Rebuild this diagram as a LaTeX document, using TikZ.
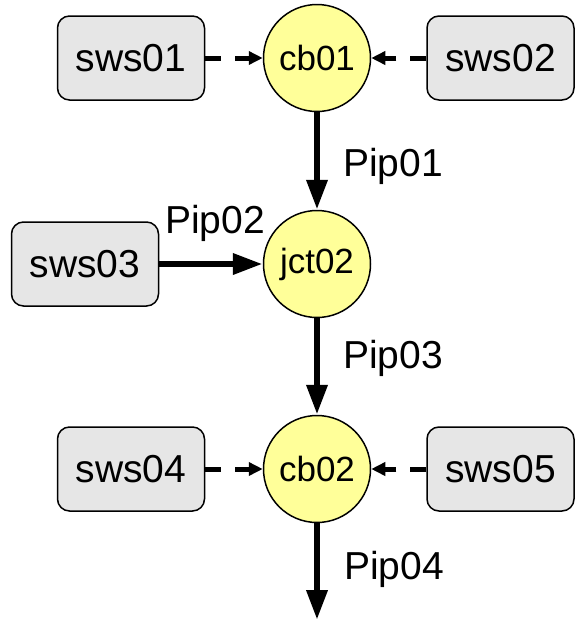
\documentclass[tikz,border=0pt]{standalone}
\usepackage{fontspec}
\setmainfont{Liberation Sans}
\usetikzlibrary{arrows.meta}
\definecolor{boxfill}{HTML}{E6E6E6}
\definecolor{nodefill}{HTML}{FFFF99}
\begin{document}
\begin{tikzpicture}[x=1pt,y=-1pt,
  swsbox/.style={draw=black, line width=1.5pt, fill=boxfill, rounded corners=12pt,
    minimum width=147pt, minimum height=84pt, inner sep=0pt,
    font=\fontsize{39}{39}\selectfont},
  junc/.style={draw=black, line width=1.5pt, fill=nodefill, circle,
    minimum size=107pt, inner sep=0pt, font=\fontsize{35}{35}\selectfont},
  flow/.style={line width=6.5pt, -{Triangle[length=30pt,width=20pt]}},
  feed/.style={line width=5pt, dash pattern=on 16pt off 14pt,
    -{Triangle[length=14pt,width=13pt]}},
  lbl/.style={anchor=base west, inner sep=0pt, font=\fontsize{39}{39}\selectfont}]
\useasboundingbox (0,0) rectangle (574,622);
\node[junc] (cb01) at (317,58) {cb01};
\node[junc] (jct02) at (317,264) {jct02};
\node[junc] (cb02) at (317,469) {cb02};
\node[swsbox] (sws01) at (131,58) {sws01};
\node[swsbox] (sws02) at (500.5,58) {sws02};
\node[swsbox] (sws03) at (85,264) {sws03};
\node[swsbox] (sws04) at (131,469) {sws04};
\node[swsbox] (sws05) at (500.5,469) {sws05};
\coordinate (out) at (317,620);
\draw[feed] (sws01) -- (cb01);
\draw[feed] (sws02) -- (cb01);
\draw[feed] (sws04) -- (cb02);
\draw[feed] (sws05) -- (cb02);
\draw[flow] (cb01) -- (jct02);
\draw[flow] (sws03) -- (jct02);
\draw[flow] (jct02) -- (cb02);
\draw[flow] (cb02) -- (out);
\node[lbl] (p1) at (343,176) {Pip01};
\node[lbl] (p2) at (165,233) {Pip02};
\node[lbl] (p3) at (343,368) {Pip03};
\node[lbl] (p4) at (344,579) {Pip04};
\end{tikzpicture}
\end{document}
